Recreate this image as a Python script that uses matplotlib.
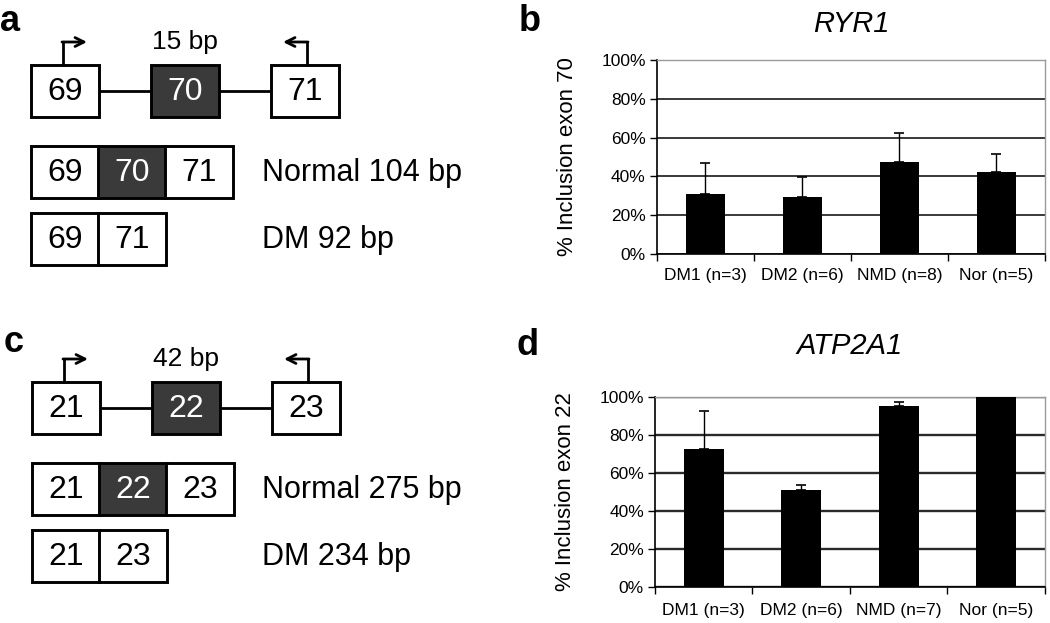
import numpy as np
import matplotlib
matplotlib.use('Agg')
import matplotlib.pyplot as plt
from matplotlib.patches import Rectangle

plt.rcParams['font.family'] = ['Liberation Sans', 'DejaVu Sans']

# exon diagrams
exons_a = ['69', '70', '71']
skip_a = '15 bp'
normal_a = 'Normal 104 bp'
dm_a = 'DM 92 bp'

exons_c = ['21', '22', '23']
skip_c = '42 bp'
normal_c = 'Normal 275 bp'
dm_c = 'DM 234 bp'

# bar charts
groups_b = ['DM1 (n=3)', 'DM2 (n=6)', 'NMD (n=8)', 'Nor (n=5)']
ryr1_mean = [31, 29.5, 47.5, 42.5]
ryr1_err = [16, 10, 15, 9]

groups_d = ['DM1 (n=3)', 'DM2 (n=6)', 'NMD (n=7)', 'Nor (n=5)']
atp_mean = [72.5, 51, 95, 100]
atp_err = [20, 2.5, 2, 0]

yticks = [0, 20, 40, 60, 80, 100]
ytick_labels = ['0%', '20%', '40%', '60%', '80%', '100%']

DARK = '#3a3a3a'
BW, BH = 68, 52
W, H = 1050, 623


def exon_box(ax, x, y, label, dark):
    ax.add_patch(Rectangle((x, y), BW, BH, facecolor=DARK if dark else 'white',
                           edgecolor='black', lw=2.1, zorder=3))
    ax.text(x + BW / 2, y + BH / 2 + 1, label, ha='center', va='center',
            fontsize=23, color='white' if dark else 'black', zorder=4)


def gene_diagram(ax, exons, skip, normal, dm, y0, x0=31):
    # genomic layout with introns
    xs = [x0 + i * 120 for i in range(len(exons))]
    ax.plot([xs[0] + BW, xs[-1]], [y0 + BH / 2] * 2, color='black', lw=2.0, zorder=2)
    for i, (x, e) in enumerate(zip(xs, exons)):
        exon_box(ax, x, y0, e, i == 1)
    # primers
    top = y0 - 23
    for x, d in [(xs[0] + BW / 2 - 2, 1), (xs[-1] + BW / 2 + 2, -1)]:
        ax.plot([x, x], [y0, top], color='black', lw=2.0, zorder=3)
        ax.annotate('', xy=(x + d * 24, top), xytext=(x - d * 1, top),
                    arrowprops=dict(arrowstyle='->', lw=2.0, color='black',
                                    mutation_scale=16, shrinkA=0, shrinkB=0))
    ax.text(xs[1] + BW / 2, top, skip, ha='center', va='center', fontsize=19)

    # normal transcript
    yn = y0 + 81
    for i, e in enumerate(exons):
        exon_box(ax, x0 + i * 67, yn, e, i == 1)
    ax.text(262, yn + BH / 2 + 1, normal, ha='left', va='center', fontsize=22)

    # DM transcript (skipped middle exon)
    yd = y0 + 148
    for i, e in enumerate([exons[0], exons[2]]):
        exon_box(ax, x0 + i * 67, yd, e, False)
    ax.text(262, yd + BH / 2 + 1, dm, ha='left', va='center', fontsize=22)


def bar_panel(ax, groups, means, errs, ylabel, title, title_pad, grid_lw, xpad):
    x = np.arange(len(groups))
    ax.bar(x, means, width=0.41, color='black', zorder=3)
    lower = np.zeros(len(errs))
    ax.errorbar(x, means, yerr=[lower, errs], fmt='none', ecolor='black',
                elinewidth=1.0, capsize=3.5, capthick=1.2, zorder=4)
    ax.set_xlim(-0.5, len(groups) - 0.5)
    ax.set_ylim(0, 100)
    ax.set_yticks(yticks)
    ax.set_yticklabels(ytick_labels, fontsize=12.5)
    ax.yaxis.grid(True, color='#2a2a2a', lw=grid_lw, zorder=0)
    ax.set_axisbelow(True)
    ax.set_xticks(np.arange(-0.5, len(groups)), minor=False)
    ax.set_xticklabels([])
    ax.set_xticks(x, minor=True)
    ax.set_xticklabels(groups, minor=True, fontsize=12.5)
    ax.tick_params(axis='x', which='minor', length=0, pad=xpad)
    ax.tick_params(axis='x', which='major', length=5, width=1.0, direction='out')
    ax.tick_params(axis='y', length=5, width=1.0, direction='out', pad=3)
    for s in ['top', 'right']:
        ax.spines[s].set_color('#9a9a9a')
        ax.spines[s].set_linewidth(1.0)
    for s in ['left', 'bottom']:
        ax.spines[s].set_color('black')
        ax.spines[s].set_linewidth(1.2)
    ax.set_ylabel(ylabel, fontsize=16, labelpad=17)
    ax.set_title(title, fontsize=21, style='italic', pad=title_pad)


fig = plt.figure(figsize=(10.5, 6.23), dpi=100)

diag = fig.add_axes([0, 0, 0.5, 1])
diag.set_xlim(0, 525)
diag.set_ylim(623, 0)
diag.axis('off')
gene_diagram(diag, exons_a, skip_a, normal_a, dm_a, 65)
gene_diagram(diag, exons_c, skip_c, normal_c, dm_c, 382, x0=32)

ax_b = fig.add_axes([0.6257, 0.5923, 0.3695, 0.3114])
bar_panel(ax_b, groups_b, ryr1_mean, ryr1_err, '% Inclusion exon 70', 'RYR1',
          title_pad=20, grid_lw=1.3, xpad=10)

ax_d = fig.add_axes([0.6238, 0.0583, 0.3714, 0.305])
bar_panel(ax_d, groups_d, atp_mean, atp_err, '% Inclusion exon 22', 'ATP2A1',
          title_pad=31, grid_lw=1.7, xpad=12)

# panel letters (pixel baseline positions)
for lbl, px, py in [('a', 0, 31), ('b', 519, 31), ('c', 4, 352), ('d', 516, 355)]:
    fig.text(px / W, 1 - py / H, lbl, fontsize=26, fontweight='bold',
             va='baseline', ha='left')

fig.savefig('out.png', dpi=100)
